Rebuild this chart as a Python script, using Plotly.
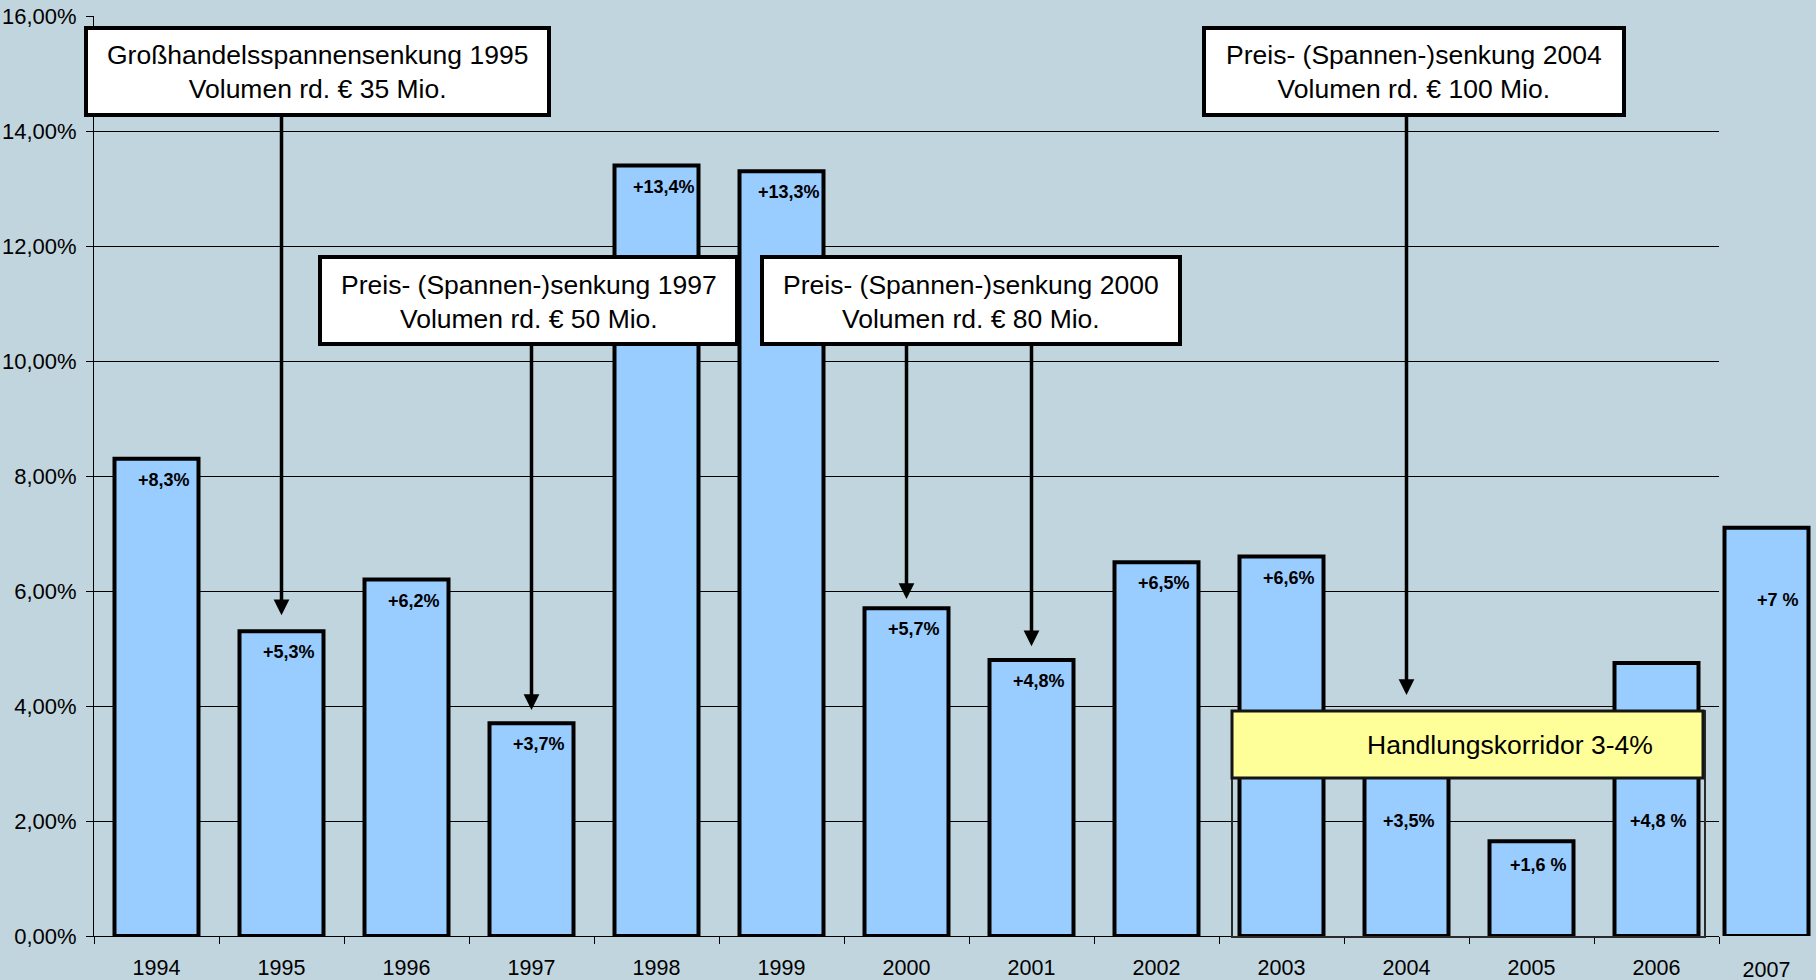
import plotly.graph_objects as go

# ---------------- data ----------------
years = ["1994", "1995", "1996", "1997", "1998", "1999", "2000",
         "2001", "2002", "2003", "2004", "2005", "2006"]
growth = [8.3, 5.3, 6.2, 3.7, 13.4, 13.3, 5.7, 4.8, 6.5, 6.6, 3.5, 1.65, 4.75]
value_labels = ["+8,3%", "+5,3%", "+6,2%", "+3,7%", "+13,4%", "+13,3%", "+5,7%",
                "+4,8%", "+6,5%", "+6,6%", "+3,5%", "+1,6 %", "+4,8 %"]

extra_years = ["2007"]
extra_growth = [7.1]
extra_labels = ["+7 %"]

y_ticks = [0, 2, 4, 6, 8, 10, 12, 14, 16]
y_tick_text = [f"{v:.2f}".replace(".", ",") + "%" for v in y_ticks]

callout_texts = [
    "Großhandelsspannensenkung 1995<br>Volumen rd. € 35 Mio.",
    "Preis- (Spannen-)senkung 1997<br>Volumen rd. € 50 Mio.",
    "Preis- (Spannen-)senkung 2000<br>Volumen rd. € 80 Mio.",
    "Preis- (Spannen-)senkung 2004<br>Volumen rd. € 100 Mio.",
]
corridor_text = "Handlungskorridor 3-4%"

# ---------------- layout helpers ----------------
W, H = 1816, 980
ML, MR, MT, MB = 94, 0, 16, 44
PW, PH = W - ML - MR, H - MT - MB
FONT = "Liberation Sans, Arial, sans-serif"
BG = "#C0D5DE"
BAR = "#99CCFF"


def px(x):
    return (x - ML) / PW


def py(y):
    return (H - MB - y) / PH


split = px(1719)

fig = go.Figure()
fig.add_trace(go.Bar(
    x=years, y=growth, xaxis="x", yaxis="y",
    marker=dict(color=BAR, line=dict(color="black", width=4)),
    hoverinfo="skip", showlegend=False,
))
fig.add_trace(go.Bar(
    x=extra_years, y=extra_growth, xaxis="x2", yaxis="y2",
    marker=dict(color=BAR, line=dict(color="black", width=4)),
    hoverinfo="skip", showlegend=False,
))

annotations = []
shapes = []
LABEL_FONT = dict(family=FONT, size=18, color="black")

# value labels inside bars (x given as category index)
label_override = {"2004": 2.0, "2006": 2.0}
for i, (yr, val, lab) in enumerate(zip(years, growth, value_labels)):
    if yr in label_override:
        annotations.append(dict(x=i, y=label_override[yr], xref="x", yref="y",
                                xanchor="center", yanchor="middle",
                                text=f"<b>{lab}</b>", showarrow=False, xshift=2,
                                font=LABEL_FONT))
    else:
        annotations.append(dict(x=i, y=val, xref="x", yref="y",
                                xanchor="center", yanchor="top",
                                yshift=-12 if yr == "2005" else -9, xshift=7,
                                text=f"<b>{lab}</b>", showarrow=False,
                                font=LABEL_FONT))
for i, (yr, val, lab) in enumerate(zip(extra_years, extra_growth, extra_labels)):
    annotations.append(dict(x=i, y=5.85, xref="x2", yref="y2",
                            xanchor="center", yanchor="middle",
                            text=f"<b>{lab}</b>", showarrow=False, xshift=11,
                            font=LABEL_FONT))

# callout boxes (pixel boxes: x0, x1, y0, y1)
boxes = [(86, 549, 28, 115), (320, 737, 257, 344), (762, 1180, 257, 344), (1204, 1624, 28, 115)]
for (x0, x1, y0, y1), txt in zip(boxes, callout_texts):
    shapes.append(dict(type="rect", xref="paper", yref="paper",
                       x0=px(x0), x1=px(x1), y0=py(y1), y1=py(y0),
                       fillcolor="white", line=dict(color="black", width=4), layer="above"))
    annotations.append(dict(x=px((x0 + x1) / 2), y=py((y0 + y1) / 2 + 1), xref="paper", yref="paper",
                            xanchor="center", yanchor="middle",
                            text=txt, showarrow=False, align="center",
                            font=dict(family=FONT, size=26.5, color="black")))

# arrows: (category index, start y value, tip y value)
box_bottom_top = (H - MB - 115) / (PH / 16)
box_bottom_mid = (H - MB - 344) / (PH / 16)
arrows = [(1, box_bottom_top, 5.58), (3, box_bottom_mid, 3.93), (6, box_bottom_mid, 5.86),
          (7, box_bottom_mid, 5.04), (10, box_bottom_top, 4.19)]
for idx, y_start, y_tip in arrows:
    annotations.append(dict(x=idx, y=y_tip, xref="x", yref="y",
                            ax=idx, ay=y_start, axref="x", ayref="y",
                            text="", showarrow=True, arrowhead=2, arrowsize=0.9,
                            arrowwidth=3.5, arrowcolor="black", standoff=0, startstandoff=0))

# corridor outline and yellow box
shapes.append(dict(type="rect", xref="paper", yref="paper",
                   x0=px(1232), x1=px(1705), y0=py(937), y1=py(711),
                   fillcolor="rgba(0,0,0,0)", line=dict(color="#2a2a2a", width=2), layer="above"))
shapes.append(dict(type="rect", xref="paper", yref="paper",
                   x0=px(1232), x1=px(1703), y0=py(778), y1=py(711),
                   fillcolor="#FFFF99", line=dict(color="#151515", width=3), layer="above"))
annotations.append(dict(x=px(1510), y=py(745), xref="paper", yref="paper",
                        xanchor="center", yanchor="middle",
                        text=corridor_text, showarrow=False,
                        font=dict(family=FONT, size=26.5, color="black")))

fig.update_layout(
    width=W, height=H,
    margin=dict(l=ML, r=MR, t=MT, b=MB, pad=0, autoexpand=False),
    paper_bgcolor=BG, plot_bgcolor=BG,
    bargap=0.328,
    separators=",.",
    font=dict(family=FONT, size=20, color="black"),
    xaxis=dict(domain=[0, split], type="category", showline=True, linecolor="black", linewidth=1,
               ticks="outside", ticklen=7, tickcolor="black", tickwidth=1, tickson="boundaries",
               showgrid=False, ticklabelstandoff=12, range=[-0.5, 12.5], automargin=False,
               tickfont=dict(family=FONT, size=21.5, color="black")),
    yaxis=dict(range=[0, 16], tickvals=y_ticks, ticktext=y_tick_text, automargin=False,
               showline=True, linecolor="black", linewidth=1, ticks="outside", ticklen=7,
               tickcolor="black", showgrid=True, gridcolor="black", gridwidth=1,
               zeroline=False, ticklabelstandoff=5,
               tickfont=dict(family=FONT, size=22, color="black")),
    xaxis2=dict(domain=[split, 1], type="category", anchor="y2", range=[-0.38, 0.396],
                showline=False, ticks="", showgrid=False, ticklabelstandoff=18, automargin=False,
                tickfont=dict(family=FONT, size=21.5, color="black")),
    yaxis2=dict(range=[0, 16], anchor="x2", showgrid=False, showline=False, automargin=False,
                showticklabels=False, zeroline=False, ticks="", domain=[0, 1]),
    shapes=shapes,
    annotations=annotations,
)

fig.write_html("out.html", config={"displayModeBar": False})
